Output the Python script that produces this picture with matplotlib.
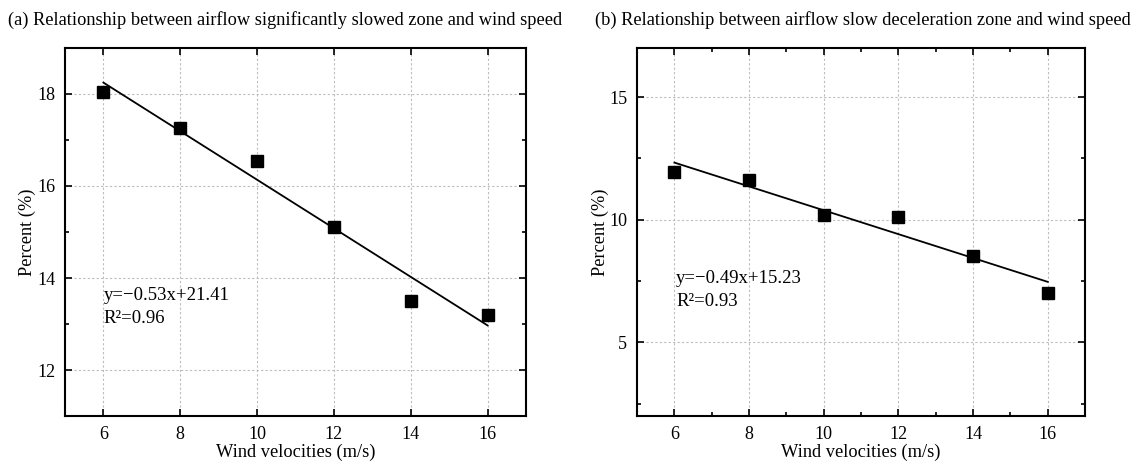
import numpy as np
import matplotlib
matplotlib.use('Agg')
import matplotlib.pyplot as plt
from matplotlib.ticker import MultipleLocator

plt.rcParams['font.family'] = ['Liberation Serif', 'DejaVu Serif']

# wind speed (m/s)
wind = [6, 8, 10, 12, 14, 16]
# (a) significantly slowed zone, percent
slowed = [18.05, 17.25, 16.55, 15.1, 13.5, 13.2]
# (b) slow deceleration zone, percent
decel = [11.95, 11.6, 10.2, 10.1, 8.54, 7.0]

titles = ['(a) Relationship between airflow significantly slowed zone and wind speed',
          '(b) Relationship between airflow slow deceleration zone and wind speed']
eqs = [('y=\u22120.53x+21.41', 'R\u00b2=0.96'), ('y=\u22120.49x+15.23', 'R\u00b2=0.93')]

fig = plt.figure(figsize=(11.38, 4.61), dpi=100)
ax1 = fig.add_axes([0.0571, 0.0976, 0.4051, 0.7983])
ax2 = fig.add_axes([0.5598, 0.0976, 0.3937, 0.7983])

def draw(ax, y, ylim, ymaj, eq, ex, ey, xminor):
    x = np.array(wind)
    k, b = np.polyfit(x, y, 1)
    ax.plot(x, k * x + b, color='black', lw=1.3, zorder=3)
    ax.plot(x, y, 's', color='black', ms=8, zorder=4)
    ax.set_xlim(5, 17)
    ax.set_ylim(*ylim)
    ax.xaxis.set_major_locator(MultipleLocator(2))
    ax.yaxis.set_major_locator(MultipleLocator(ymaj))
    ax.yaxis.set_minor_locator(MultipleLocator(ymaj / 2))
    if xminor:
        ax.xaxis.set_minor_locator(MultipleLocator(1))
    ax.tick_params(which='both', direction='in', top=True, right=True,
                   labelsize=13, width=1.2)
    ax.tick_params(which='major', length=5, pad=7)
    ax.tick_params(which='minor', length=3)
    for s in ax.spines.values():
        s.set_linewidth(1.5)
    ax.grid(True, which='major', ls=(0, (2, 2)), color='#bdbdbd', lw=0.8)
    ax.set_xlabel('Wind velocities (m/s)', fontsize=13.2, labelpad=1)
    ax.set_ylabel('Percent (%)', fontsize=13.2, labelpad=0.5)
    ax.text(ex, ey[0], eq[0], fontsize=13.5, va='center', ha='left')
    ax.text(ex, ey[1], eq[1], fontsize=13.5, va='center', ha='left')

draw(ax1, slowed, (11, 19), 2, eqs[0], 6.0, (13.63, 13.13), False)
draw(ax2, decel, (2, 17), 5, eqs[1], 6.05, (7.59, 6.65), True)

fig.text(8 / 1138, 0.957, titles[0], fontsize=13.2, va='center', ha='left')
fig.text(595 / 1138, 0.957, titles[1], fontsize=13.2, va='center', ha='left')

fig.savefig('out.png', dpi=100)
